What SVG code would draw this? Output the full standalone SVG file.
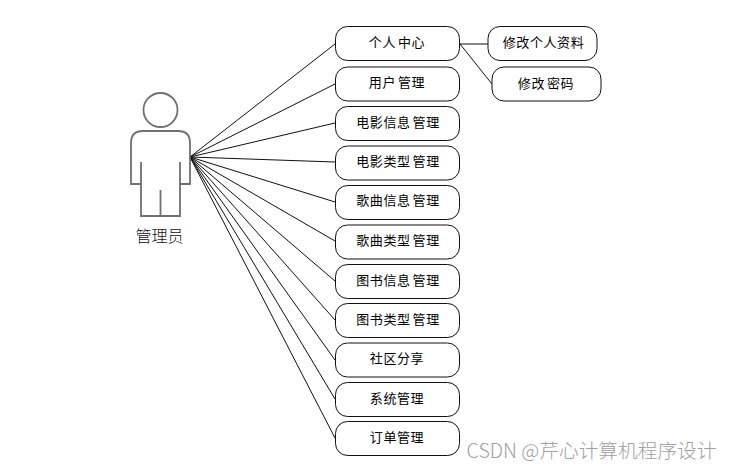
<svg xmlns="http://www.w3.org/2000/svg" width="732" height="468" viewBox="0 0 732 468">
<style>
text{font-family:"Noto Sans CJK SC","Liberation Sans",sans-serif;text-anchor:middle;dominant-baseline:central}
.n rect{fill:#fff;stroke:#111;stroke-width:1}
.n text{font-size:13px;letter-spacing:.6px;word-spacing:-1.500px;fill:#000;font-weight:400}
#connectors line{stroke:#111;stroke-width:1}
</style>
<rect width="732" height="468" fill="#fff"/>
<g id="connectors">
<line x1="190" y1="157" x2="335" y2="44"/>
<line x1="190" y1="157" x2="335" y2="84"/>
<line x1="190" y1="157" x2="335" y2="123"/>
<line x1="190" y1="157" x2="335" y2="162"/>
<line x1="190" y1="157" x2="335" y2="202"/>
<line x1="190" y1="157" x2="335" y2="241"/>
<line x1="190" y1="157" x2="335" y2="281"/>
<line x1="190" y1="157" x2="335" y2="320"/>
<line x1="190" y1="157" x2="335" y2="360"/>
<line x1="190" y1="157" x2="335" y2="399"/>
<line x1="190" y1="157" x2="335" y2="438"/>
<line x1="460" y1="44" x2="488" y2="44"/>
<line x1="460" y1="44" x2="492" y2="84"/>
</g>
<g id="actor" fill="none" stroke="#707070" stroke-width="1.800">
<circle cx="160.500" cy="110" r="17"/>
<path d="M143 131H178Q190 131 190 143V184H180M180 162V216H141V162M141 184H131V143Q131 131 143 131M160.500 190V216"/>
<text x="159.500" y="234.500" stroke="none" fill="#111" font-size="16" font-weight="300">管理员</text>
</g>
<g id="n1" class="n"><rect x="335.500" y="26.500" width="124" height="34" rx="12"/><text x="397" y="41.500">个人 中心</text></g>
<g id="n2" class="n"><rect x="335.500" y="67" width="124" height="34" rx="12"/><text x="397" y="81.500">用户 管理</text></g>
<g id="n3" class="n"><rect x="335.500" y="106.500" width="124" height="34" rx="12"/><text x="398" y="121">电影信息 管理</text></g>
<g id="n4" class="n"><rect x="335.500" y="146" width="124" height="34" rx="12"/><text x="398" y="160">电影类型 管理</text></g>
<g id="n5" class="n"><rect x="335.500" y="185.500" width="124" height="34" rx="12"/><text x="398" y="199.500">歌曲信息 管理</text></g>
<g id="n6" class="n"><rect x="335.500" y="225" width="124" height="34" rx="12"/><text x="398" y="239">歌曲类型 管理</text></g>
<g id="n7" class="n"><rect x="335.500" y="264.500" width="124" height="34" rx="12"/><text x="398" y="279">图书信息 管理</text></g>
<g id="n8" class="n"><rect x="335.500" y="303.500" width="124" height="34" rx="12"/><text x="398" y="318">图书类型 管理</text></g>
<g id="n9" class="n"><rect x="335.500" y="343" width="124" height="34" rx="12"/><text x="397" y="357.500">社区分享</text></g>
<g id="n10" class="n"><rect x="335.500" y="382.500" width="124" height="34" rx="12"/><text x="397" y="397.500">系统管理</text></g>
<g id="n11" class="n"><rect x="335.500" y="421.500" width="124" height="34" rx="12"/><text x="397" y="436.500">订单管理</text></g>
<g id="n12" class="n"><rect x="488" y="26.500" width="109" height="34" rx="12"/><text x="543.500" y="41.500">修改个人资料</text></g>
<g id="n13" class="n"><rect x="492" y="67" width="109" height="34" rx="12"/><text x="546" y="82.500">修改 密码</text></g>
<text x="591.500" y="449.500" font-size="19.700" fill="#a0a0a0" font-weight="300">CSDN @芹心计算机程序设计</text>
</svg>
